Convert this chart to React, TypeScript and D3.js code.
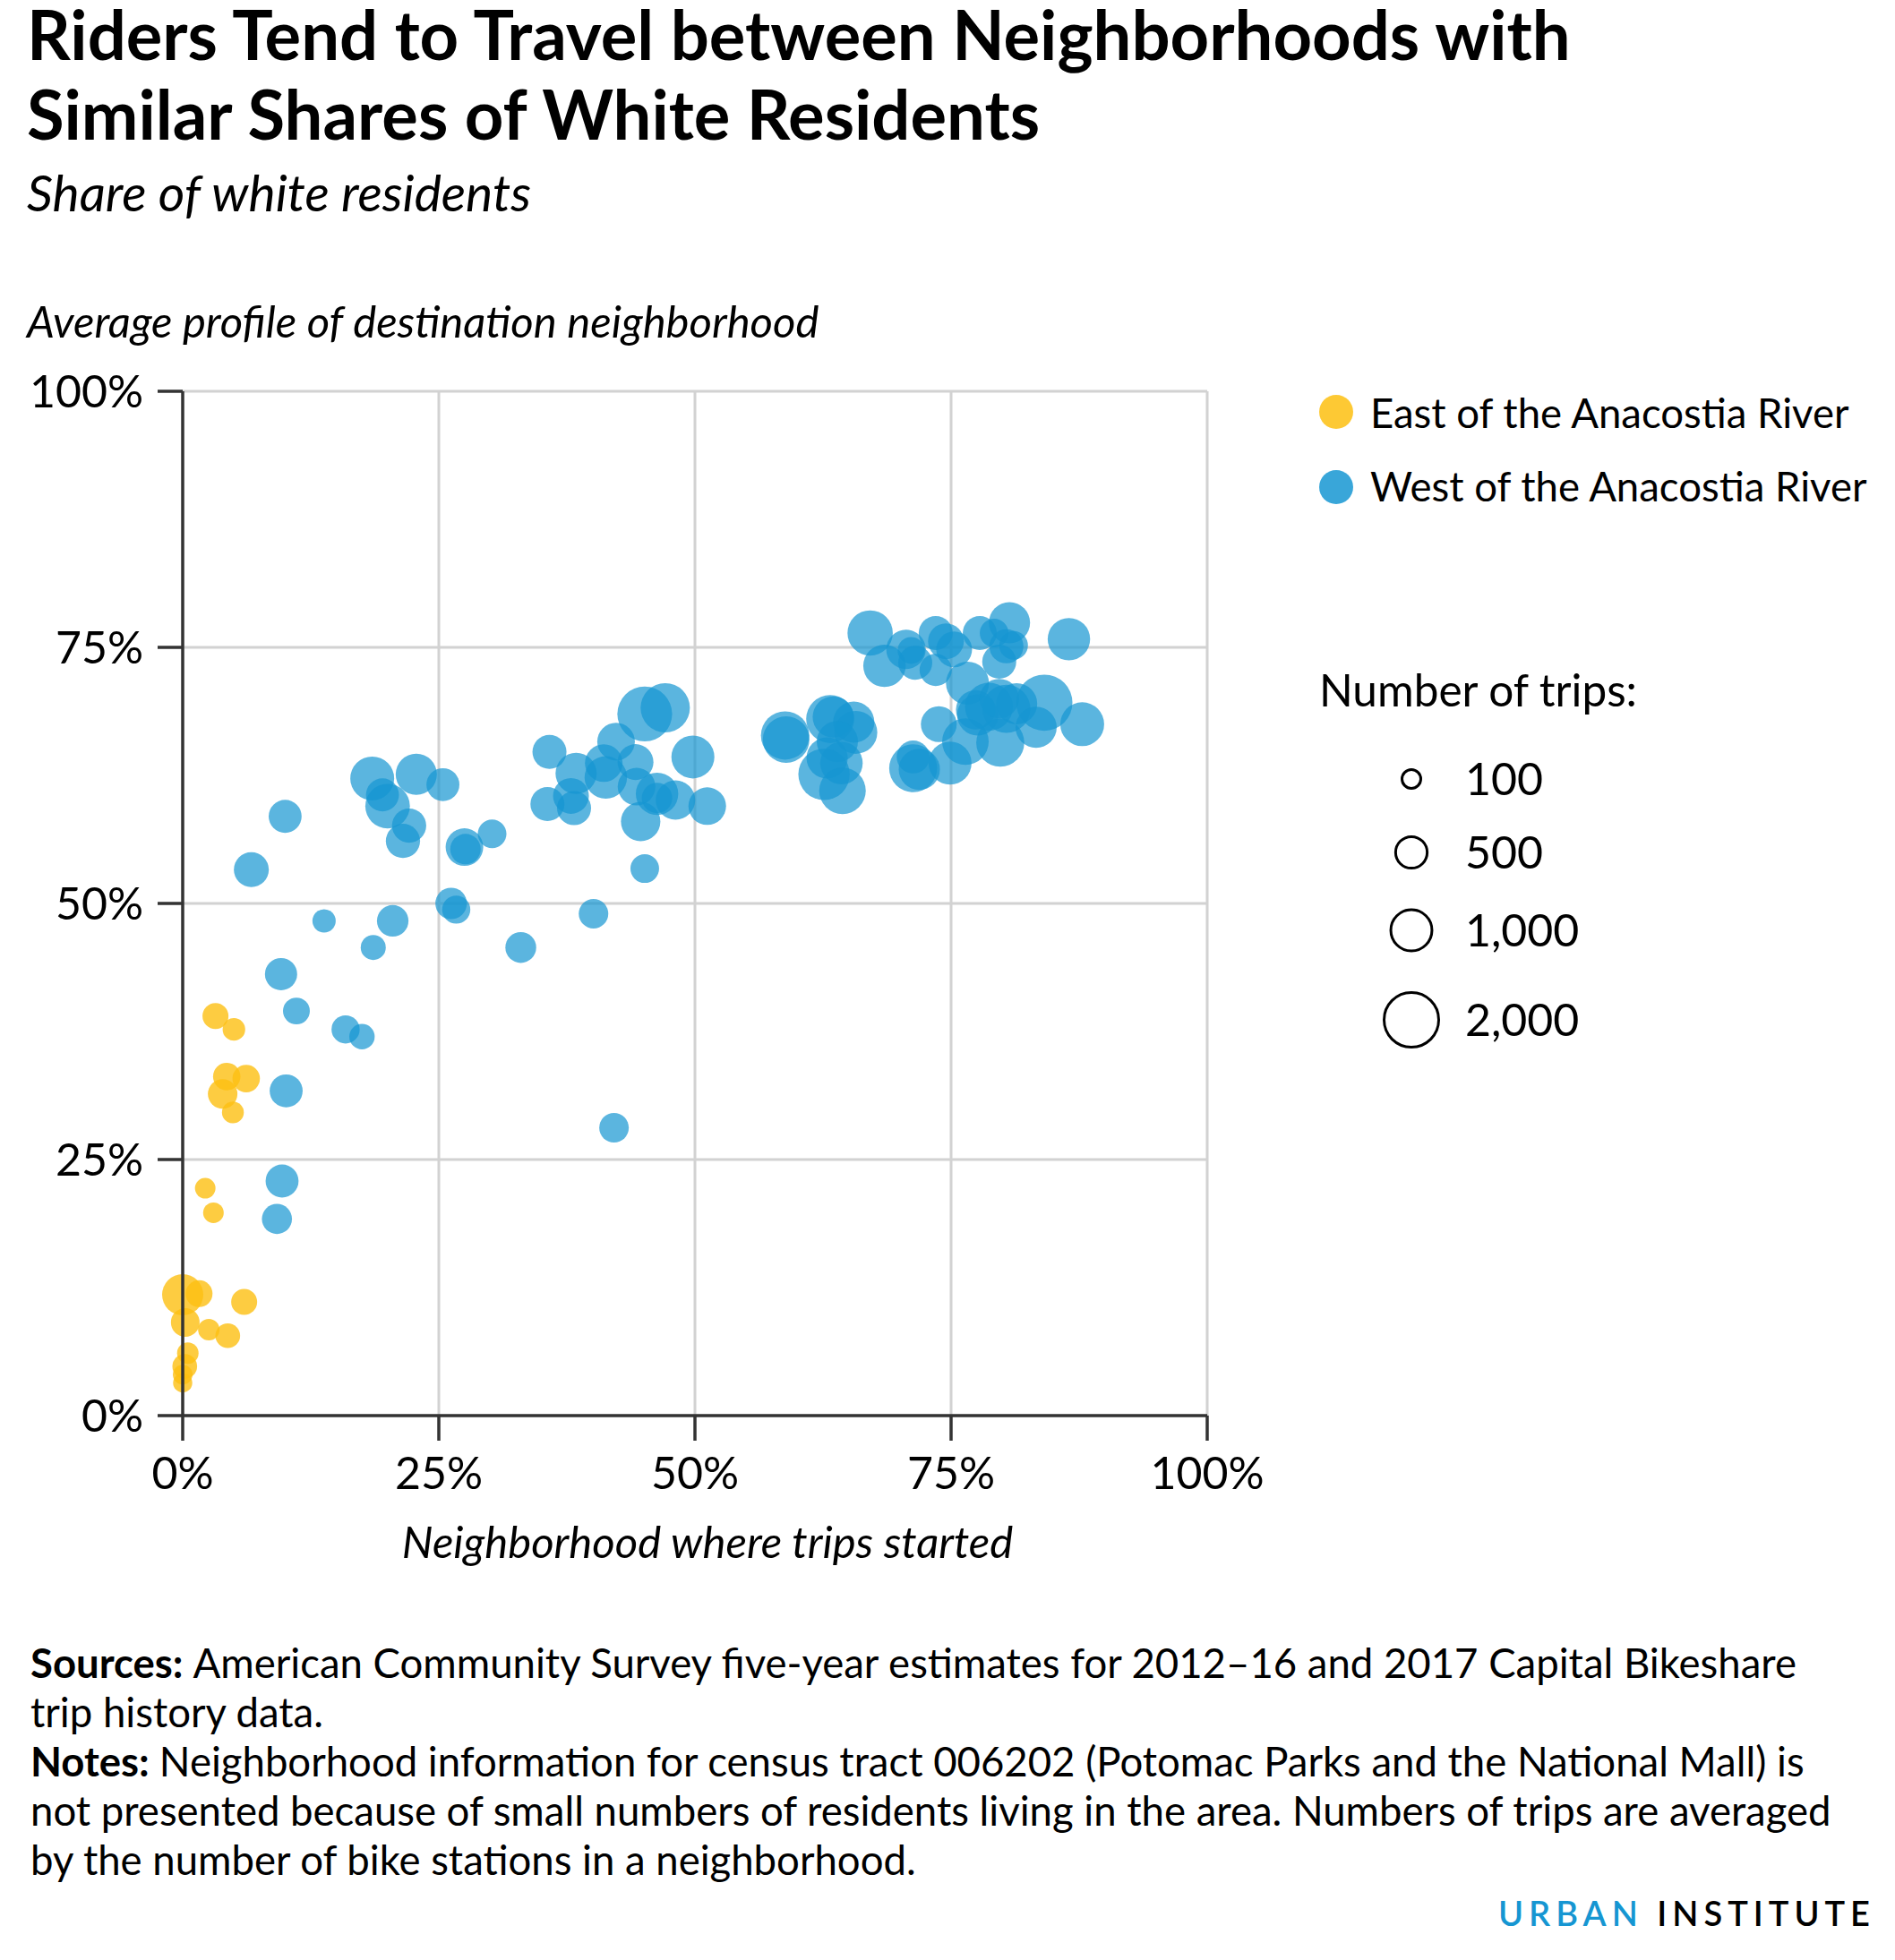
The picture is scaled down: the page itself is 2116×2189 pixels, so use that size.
import { useMemo } from 'react';
import * as d3 from 'd3';

// [share of white residents at origin, at destination, average trips]
const eastPoints: [number, number, number][] = [
    [3.2, 39.0, 206], [5.0, 37.7, 122], [4.3, 33.1, 247], [6.2, 32.9, 247],
    [3.9, 31.4, 317], [4.9, 29.6, 107], [2.2, 22.2, 83], [3.0, 19.8, 83],
    [0.0, 11.8, 846], [1.6, 11.9, 231], [6.0, 11.1, 206], [0.25, 9.1, 287],
    [2.55, 8.4, 100], [4.4, 7.8, 172], [0.5, 6.1, 100], [0.2, 4.8, 172],
    [0.0, 4.0, 68], [0.0, 3.2, 60],
];

const westPoints: [number, number, number][] = [
    [26.2, 50.0, 389], [26.7, 49.4, 270], [13.8, 48.3, 138], [20.5, 48.3, 389],
    [18.6, 45.7, 181], [33.0, 45.7, 362], [40.1, 49.0, 317], [9.6, 43.1, 417],
    [11.1, 39.5, 231], [15.9, 37.7, 270], [17.5, 37.0, 190], [10.1, 31.7, 446],
    [42.1, 28.1, 317], [9.7, 22.9, 446], [9.2, 19.2, 336],
    [10.0, 58.5, 446], [6.7, 53.3, 530], [18.5, 62.2, 1005], [19.5, 60.6, 446],
    [20.0, 59.5, 1049], [22.8, 62.6, 846], [25.4, 61.6, 446], [22.1, 57.6, 499],
    [21.5, 56.1, 499], [27.5, 55.5, 657], [27.6, 55.3, 349], [30.2, 56.8, 287],
    [35.8, 64.8, 491], [38.4, 62.7, 846], [41.1, 63.7, 657], [42.3, 65.8, 657],
    [41.3, 62.3, 919], [44.2, 63.8, 571], [45.1, 68.5, 1788], [47.1, 69.1, 1363],
    [35.6, 59.7, 491], [37.9, 60.5, 571], [38.2, 59.3, 491], [44.3, 61.4, 657],
    [46.3, 60.7, 919], [46.3, 60.3, 349], [48.1, 60.1, 749], [44.7, 58.0, 749],
    [45.1, 53.4, 287], [49.8, 64.3, 950],
    [51.2, 59.5, 657], [58.8, 66.4, 1298], [58.9, 66.0, 1176], [63.2, 68.0, 1275],
    [63.5, 68.2, 846], [65.5, 67.7, 846], [65.7, 66.7, 950], [63.9, 65.8, 846],
    [62.9, 64.2, 846], [64.3, 63.7, 919], [62.6, 62.6, 1520], [64.4, 61.0, 1176],
    [67.1, 76.4, 1094], [68.5, 73.2, 919], [70.6, 74.8, 749], [71.1, 74.7, 231],
    [71.5, 73.5, 491], [73.5, 76.4, 491], [74.5, 75.6, 571], [75.3, 74.8, 571],
    [73.5, 72.8, 417], [77.8, 76.4, 491], [80.7, 77.4, 846], [79.2, 76.4, 287],
    [81.1, 75.2, 287], [80.4, 75.1, 491], [79.7, 73.6, 491], [86.5, 75.8, 919],
    [76.6, 71.5, 950], [73.8, 67.5, 571], [74.9, 63.7, 950], [76.4, 65.8, 1176],
    [71.3, 64.3, 446], [71.3, 63.2, 1275], [71.9, 63.1, 846], [77.4, 68.9, 749],
    [78.7, 69.2, 1275], [80.4, 69.0, 1275], [81.4, 69.5, 846], [84.1, 69.6, 1908],
    [83.3, 67.2, 846], [79.8, 65.7, 1275], [87.8, 67.5, 1005], [77.6, 68.4, 846],
    [79.7, 70.0, 749],
];

const tickValues = [0, 25, 50, 75, 100];
const sizeLegend = [100, 500, 1000, 2000];
const groups = ['East of the Anacostia River', 'West of the Anacostia River'];

const footerLines: [string, string][] = [
    ['Sources: ', 'American Community Survey five-year estimates for 2012–16 and 2017 Capital Bikeshare'],
    ['', 'trip history data.'],
    ['Notes: ', 'Neighborhood information for census tract 006202 (Potomac Parks and the National Mall) is'],
    ['', 'not presented because of small numbers of residents living in the area. Numbers of trips are averaged'],
    ['', 'by the number of bike stations in a neighborhood.'],
];

const W = 2116;
const H = 2189;
const plot = { left: 204, right: 1348, top: 437, bottom: 1581 };
const yellow = '#fdbf11';
const blue = '#1696d2';
const font = 'Lato, "Noto Sans", sans-serif';

const App = () => {
    const x = useMemo(
        () => d3.scaleLinear().domain([0, 100]).range([plot.left, plot.right]),
        []
    );
    const y = useMemo(
        () => d3.scaleLinear().domain([0, 100]).range([plot.bottom, plot.top]),
        []
    );
    const r = useMemo(() => d3.scaleSqrt().domain([100, 2000]).range([12, 32]), []);
    const fmt = d3.format(',');

    return (
        <div style={{ position: 'absolute', left: 0, top: 0 }}>
            <svg width={W} height={H} style={{ display: 'block', fontFamily: font }}>
                <rect width={W} height={H} fill="#fff" />

                {/* titles */}
                <text x={30} y={67} fontSize={76} fontWeight={700} fill="#000">
                    Riders Tend to Travel between Neighborhoods with
                </text>
                <text x={30} y={156} fontSize={76} fontWeight={700} fill="#000">
                    Similar Shares of White Residents
                </text>
                <text x={30} y={236} fontSize={57} fontStyle="italic" fill="#000">
                    Share of white residents
                </text>
                <text x={30} y={377} fontSize={49} fontStyle="italic" fill="#000">
                    Average profile of destination neighborhood
                </text>

                {/* grid */}
                {tickValues.filter(t => t > 0).map(t => (
                    <g key={'g' + t}>
                        <line x1={x(t)} x2={x(t)} y1={y(100)} y2={y(0)} stroke="#d2d2d2" strokeWidth={3} />
                        <line x1={x(0)} x2={x(100)} y1={y(t)} y2={y(t)} stroke="#d2d2d2" strokeWidth={3} />
                    </g>
                ))}

                {/* points */}
                {westPoints.map((d, i) => (
                    <circle key={'w' + i} cx={x(d[0])} cy={y(d[1])} r={r(d[2])} fill={blue} fillOpacity={0.7} />
                ))}
                {eastPoints.map((d, i) => (
                    <circle key={'e' + i} cx={x(d[0])} cy={y(d[1])} r={r(d[2])} fill={yellow} fillOpacity={0.8} />
                ))}

                {/* axes */}
                <line x1={x(0)} x2={x(0)} y1={y(100)} y2={y(0)} stroke="#333" strokeWidth={3.5} />
                <line x1={x(0)} x2={x(100)} y1={y(0)} y2={y(0)} stroke="#333" strokeWidth={3.5} />
                {tickValues.map(t => (
                    <g key={'t' + t}>
                        <line x1={x(t)} x2={x(t)} y1={y(0)} y2={y(0) + 28} stroke="#333" strokeWidth={3.5} />
                        <text x={x(t)} y={1663} fontSize={50} textAnchor="middle" fill="#000">
                            {t}%
                        </text>
                        <line x1={x(0) - 28} x2={x(0)} y1={y(t)} y2={y(t)} stroke="#333" strokeWidth={3.5} />
                        <text x={160} y={y(t)} dy="0.35em" fontSize={50} textAnchor="end" fill="#000">
                            {t}%
                        </text>
                    </g>
                ))}
                <text x={790} y={1740} fontSize={49} fontStyle="italic" textAnchor="middle" fill="#000">
                    Neighborhood where trips started
                </text>

                {/* color legend */}
                {groups.map((g, i) => (
                    <g key={g}>
                        <circle cx={1492} cy={460 + i * 84} r={19} fill={i === 0 ? yellow : blue} fillOpacity={0.85} />
                        <text x={1530} y={478 + i * 82} fontSize={45.5} fill="#000">
                            {g}
                        </text>
                    </g>
                ))}

                {/* size legend */}
                <text x={1473} y={789} fontSize={49.5} fill="#000">
                    Number of trips:
                </text>
                {sizeLegend.map((s, i) => {
                    const cy = [870, 952, 1039, 1139][i];
                    return (
                        <g key={s}>
                            <circle cx={1576} cy={cy} r={r(s) - 1.5} fill="none" stroke="#000" strokeWidth={3} />
                            <text x={1636} y={cy} dy="0.36em" fontSize={50} fill="#000">
                                {fmt(s)}
                            </text>
                        </g>
                    );
                })}

                {/* footer */}
                {footerLines.map((l, i) => (
                    <text key={i} x={34} y={1874 + i * 55} fontSize={45.5} fill="#000">
                        {l[0] && <tspan fontWeight={700}>{l[0]}</tspan>}
                        <tspan>{l[1]}</tspan>
                    </text>
                ))}

                <text x={2094} y={2151} fontSize={38} textAnchor="end" letterSpacing={6} fontWeight={600}>
                    <tspan fill={blue}>URBAN </tspan>
                    <tspan fill="#000">INSTITUTE</tspan>
                </text>
            </svg>
        </div>
    );
};

export default App;
